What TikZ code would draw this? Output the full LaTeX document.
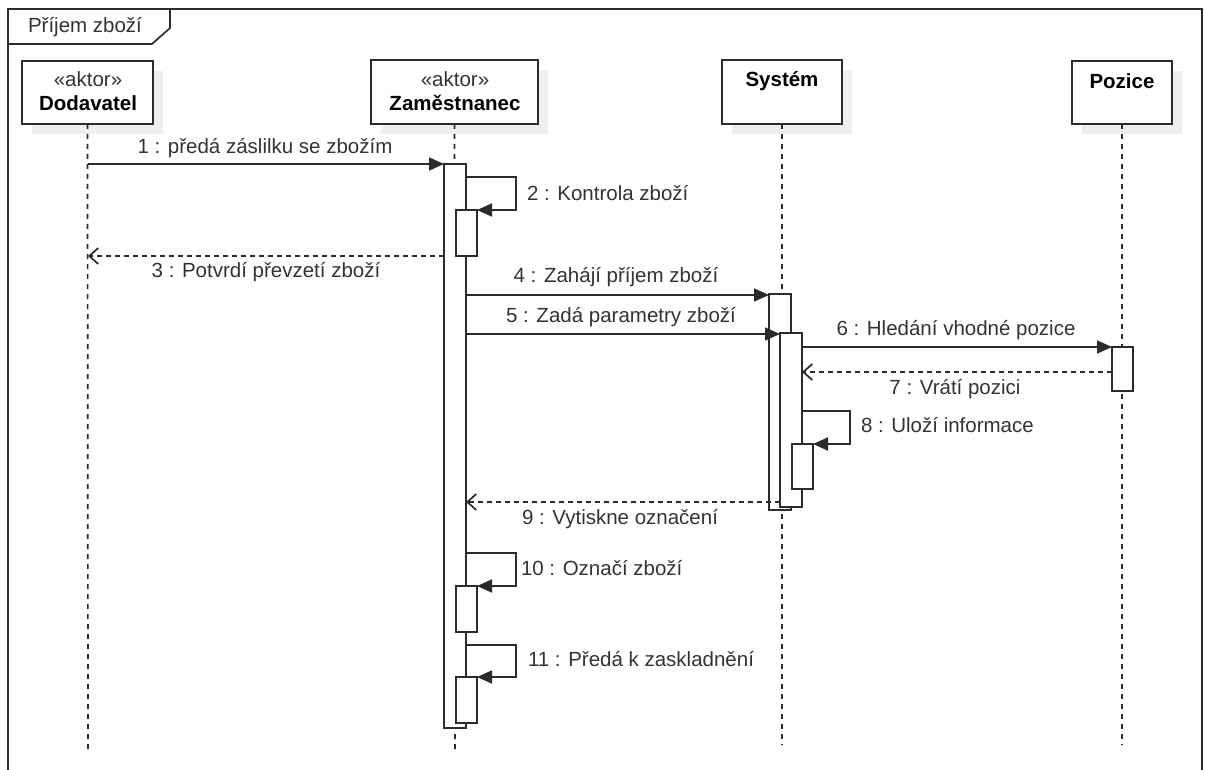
\documentclass[tikz,border=0pt]{standalone}
\usepackage{fontspec}
\setmainfont{Liberation Sans}
\usetikzlibrary{arrows.meta}

\definecolor{ink}{HTML}{2B2B2B}
\definecolor{txt}{HTML}{333333}
\definecolor{shadowgray}{HTML}{EFEFEF}

\begin{document}
\begin{tikzpicture}[x=1pt,y=-1pt,
  line width=1.7pt,
  every node/.style={inner sep=0pt, outer sep=0pt},
  headbox/.style={draw=ink, fill=white, anchor=north west},
  headshadow/.style={fill=shadowgray},
  actbar/.style={draw=ink, fill=white, anchor=north west, minimum width=22pt},
  lifeline/.style={draw=ink, dash pattern=on 5pt off 5pt},
  msg/.style={draw=ink, -{Triangle[length=15pt,width=13pt]}},
  reply/.style={draw=ink, dash pattern=on 5pt off 4pt, -{Straight Barb[length=9pt,width=16pt]}},
  lbl/.style={font=\fontsize{20.5}{24}\selectfont, text=txt},
  hdr/.style={font=\fontsize{20.5}{24}\selectfont\bfseries, text=black},
]
\useasboundingbox (0,0) rectangle (1205,770);

% frame
\draw[ink] (8,775) -- (8,9) -- (1202,9) -- (1202,775);
\draw[ink] (8,44) -- (152,44) -- (170,28) -- (170,9);
\node[lbl] (title) at (85,27) {Příjem zboží};

% lifeline heads with soft shadows
\path[headshadow] (32,71) rectangle (163,134);
\path[headshadow] (381,70) rectangle (548,134);
\path[headshadow] (732,70) rectangle (852,134);
\path[headshadow] (1082,71) rectangle (1182,134);

\node[headbox, minimum width=131pt, minimum height=63pt] (dod) at (22,61) {};
\node[headbox, minimum width=167pt, minimum height=64pt] (zam) at (371,60) {};
\node[headbox, minimum width=120pt, minimum height=64pt] (sys) at (722,60) {};
\node[headbox, minimum width=100pt, minimum height=63pt] (poz) at (1072,61) {};

\node[lbl] (dodst) at (88,79) {«aktor»};
\node[hdr] (dodnm) at (88,103) {Dodavatel};
\node[lbl] (zamst) at (455,79) {«aktor»};
\node[hdr] (zamnm) at (455,103) {Zaměstnanec};
\node[hdr] (sysnm) at (782,81) {Systém};
\node[hdr] (poznm) at (1122,81) {Pozice};

% lifelines
\coordinate (dodend) at (88,750);
\coordinate (zamend) at (455,750);
\coordinate (sysend) at (782,745);
\coordinate (pozend) at (1122,745);
\draw[lifeline] (dod.south) -- (dodend);
\draw[lifeline] (zam.south) -- (zamend);
\draw[lifeline] (sys.south) -- (sysend);
\draw[lifeline] (poz.south) -- (pozend);

% activation bars
\node[actbar, minimum height=564pt] (zmain) at (444,164) {};
\node[actbar, minimum width=21pt, minimum height=46pt] (z2) at (456,210) {};
\node[actbar, minimum width=21pt, minimum height=46pt] (z10) at (456,586) {};
\node[actbar, minimum width=21pt, minimum height=46pt] (z11) at (456,677) {};
\node[actbar, minimum height=216pt] (sa) at (769,294) {};
\node[actbar, minimum height=174pt] (sb) at (780,333) {};
\node[actbar, minimum width=21pt, minimum height=45pt] (s8) at (792,444) {};
\node[actbar, minimum width=21pt, minimum height=44pt] (p6) at (1112,347) {};

% message end points
\coordinate (m1s) at (88,164);
\coordinate (m3s) at (444,256);
\coordinate (m3e) at (88,256);
\coordinate (m4s) at (466,295);
\coordinate (m5s) at (466,334);
\coordinate (m6s) at (802,347);
\coordinate (m7s) at (1112,372);
\coordinate (m7e) at (802,372);
\coordinate (m9s) at (780,502);
\coordinate (m9e) at (466,502);
\coordinate (l2) at (466,177);
\coordinate (l8) at (802,411);
\coordinate (l10) at (466,553);
\coordinate (l11) at (466,645);

% messages
\draw[msg] (m1s) -- (zmain.north west);
\node[lbl] (t1) at (265,148) {1 : předá záslilku se zbožím};

\draw[msg] (l2) -- (516,177) -- (516,210) -- (z2.north east);
\node[lbl, anchor=west] (t2) at (527,193) {2 : Kontrola zboží};

\draw[reply] (m3s) -- (m3e);
\node[lbl] (t3) at (266,272) {3 : Potvrdí převzetí zboží};

\draw[msg] (m4s) -- (sa.north west |- m4s);
\node[lbl] (t4) at (616,277) {4 : Zahájí příjem zboží};

\draw[msg] (m5s) -- (sb.north west |- m5s);
\node[lbl] (t5) at (621,317) {5 : Zadá parametry zboží};

\draw[msg] (m6s) -- (p6.north west);
\node[lbl] (t6) at (956,330) {6 : Hledání vhodné pozice};

\draw[reply] (m7s) -- (m7e);
\node[lbl] (t7) at (955,389) {7 : Vrátí pozici};

\draw[msg] (l8) -- (850,411) -- (850,444) -- (s8.north east);
\node[lbl, anchor=west] (t8) at (861,425) {8 : Uloží informace};

\draw[reply] (m9s) -- (m9e);
\node[lbl] (t9) at (620,519) {9 : Vytiskne označení};

\draw[msg] (l10) -- (516,553) -- (516,586) -- (z10.north east);
\node[lbl, anchor=west] (t10) at (521,568) {10 : Označí zboží};

\draw[msg] (l11) -- (516,645) -- (516,677) -- (z11.north east);
\node[lbl, anchor=west] (t11) at (528,659) {11 : Předá k zaskladnění};
\end{tikzpicture}
\end{document}
